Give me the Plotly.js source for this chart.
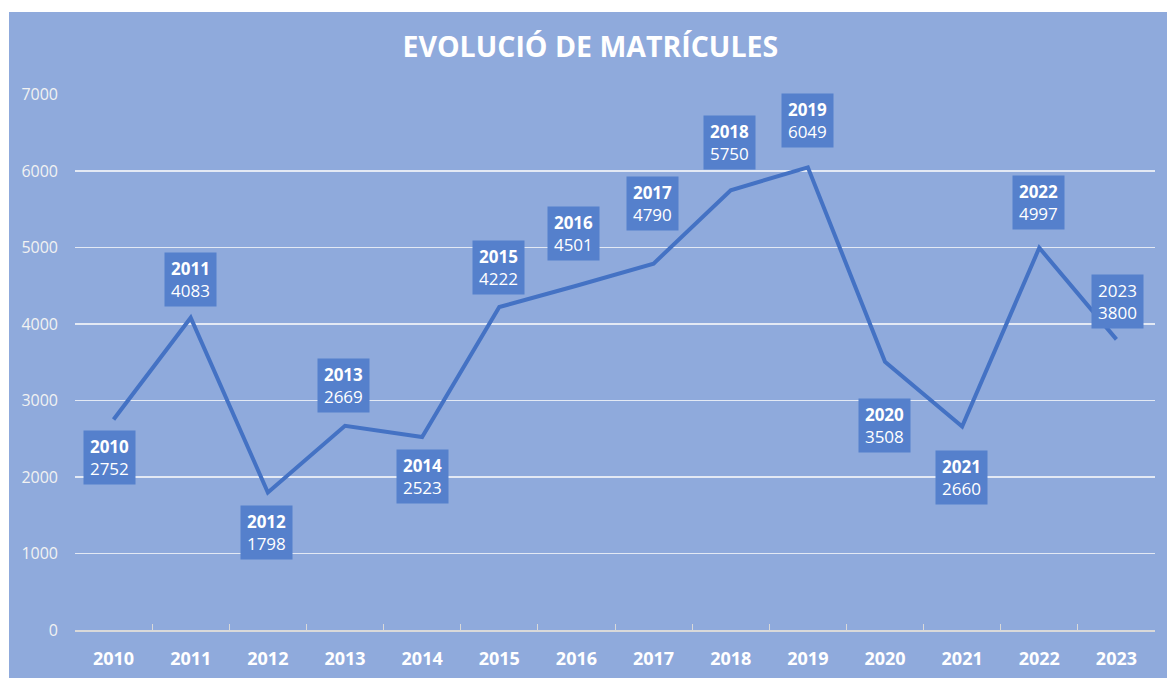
<!DOCTYPE html>
<html>
<head>
<meta charset="utf-8">
<script src="https://cdn.plot.ly/plotly-3.0.1.min.js"></script>
<style>
  html, body { margin: 0; padding: 0; background: #ffffff; width: 1167px; height: 678px; overflow: hidden; }
  #chart { position: absolute; left: 9px; top: 12px; width: 1158px; height: 666px; }
</style>
</head>
<body>
<div id="chart"></div>
<script>
const years = ['2010','2011','2012','2013','2014','2015','2016','2017','2018','2019','2020','2021','2022','2023'];
const enrolments = [2752, 4083, 1798, 2669, 2523, 4222, 4501, 4790, 5750, 6049, 3508, 2660, 4997, 3800];
const yTicks = [0, 1000, 2000, 3000, 4000, 5000, 6000, 7000];
const chartTitle = 'EVOLUCIÓ DE MATRÍCULES';

// label box placement (pixel offsets from each point) – styling only
const labelShiftY = [-38, 38, -40, 40, -39, 40, 52, 60, 48, 47, -64, -51, 45, 38];
const labelShiftX = [-4, 0, -1, -2, 0, -1, -3, -1, -1, 0, -1, -1, -1, 1];

const FONT = '"Open Sans", "Noto Sans", sans-serif';

const annotations = years.map((yr, i) => ({
  x: i, y: enrolments[i], xref: 'x', yref: 'y',
  text: (i === years.length - 1 ? yr : '<b>' + yr + '</b>') + '<br>' + enrolments[i],
  showarrow: false,
  xshift: labelShiftX[i], yshift: labelShiftY[i],
  bgcolor: '#5580cc',
  borderpad: 3,
  width: 45, height: 47,
  align: 'center', valign: 'middle',
  font: { family: FONT, size: 17, color: '#ffffff' }
}));

const trace = {
  x: years, y: enrolments,
  type: 'scatter', mode: 'lines',
  line: { color: '#4472c4', width: 4 },
  hoverinfo: 'x+y'
};

const layout = {
  width: 1158, height: 666,
  paper_bgcolor: '#8faadc',
  plot_bgcolor: '#8faadc',
  margin: { l: 66, r: 12, t: 82, b: 48, pad: 0 },
  showlegend: false,
  title: {
    text: '<b>' + chartTitle + '</b>',
    font: { family: FONT, size: 28.5, color: '#ffffff' },
    x: 0.502, xanchor: 'center',
    y: 1 - 35 / 666, yanchor: 'middle', yref: 'container'
  },
  xaxis: {
    type: 'category',
    range: [-0.5, 13.5],
    tickson: 'boundaries',
    ticks: 'inside', ticklen: 6, tickcolor: '#d9d9d9', tickwidth: 1,
    showline: true, linecolor: '#d9d9d9', linewidth: 1.5,
    showgrid: false, zeroline: false,
    tickfont: { family: FONT, size: 18, color: '#ffffff', weight: 'bold' },
    ticklabelstandoff: 12,
    fixedrange: true
  },
  yaxis: {
    range: [0, 7008],
    tickvals: yTicks,
    ticktext: yTicks.map(String),
    showgrid: true, gridcolor: '#e3e9f4', gridwidth: 1.3,
    zeroline: false, showline: false, ticks: '',
    tickfont: { family: FONT, size: 16, color: '#f2f2f2' },
    ticklabelstandoff: 16,
    fixedrange: true
  },
  annotations: annotations
};

Plotly.newPlot('chart', [trace], layout, { displayModeBar: false, staticPlot: true });
</script>
</body>
</html>
